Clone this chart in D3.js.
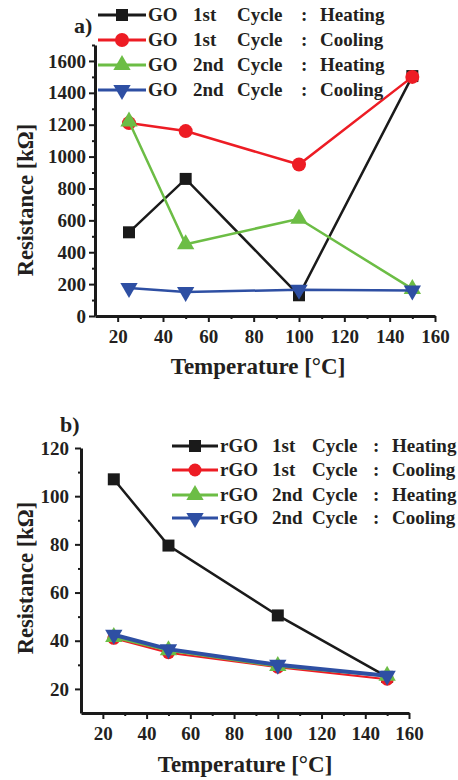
<!DOCTYPE html>
<html><head><meta charset="utf-8">
<script src="https://cdn.jsdelivr.net/npm/d3@7/dist/d3.min.js"></script>
<style>
html,body{margin:0;padding:0;background:#fff;}
svg{display:block;}
text{font-family:"Liberation Serif","Times New Roman",serif;font-weight:bold;fill:#231f20;}
</style></head>
<body>
<svg id="chart" width="458" height="780"></svg>
<script>
// ---------- data ----------
const temps = [25, 50, 100, 150];
const xTicks = [20, 40, 60, 80, 100, 120, 140, 160];
const xMinor = [30, 50, 70, 90, 110, 130, 150];

// panel a (GO)
const goLabels = ["GO 1st Cycle : Heating", "GO 1st Cycle : Cooling", "GO 2nd Cycle : Heating", "GO 2nd Cycle : Cooling"];
const go1Heat = [525, 860, 130, 1505];
const go1Cool = [1210, 1160, 950, 1500];
const go2Heat = [1220, 450, 610, 170];
const go2Cool = [175, 150, 165, 160];
const yTicksA = [0, 200, 400, 600, 800, 1000, 1200, 1400, 1600];
const yMinorA = [100, 300, 500, 700, 900, 1100, 1300, 1500, 1700];

// panel b (rGO)
const rgoLabels = ["rGO 1st Cycle : Heating", "rGO 1st Cycle : Cooling", "rGO 2nd Cycle : Heating", "rGO 2nd Cycle : Cooling"];
const rgo1Heat = [107, 79.5, 50.5, 25];
const rgo1Cool = [41, 35, 29, 24];
const rgo2Heat = [41.5, 36, 29.5, 25.5];
const rgo2Cool = [42.5, 36.5, 30, 25.5];
const yTicksB = [20, 40, 60, 80, 100, 120];
const yMinorB = [30, 50, 70, 90, 110];

const colors = ["#1a1a1a", "#ed1c24", "#6cbd45", "#2e4fa3"];
const symbols = ["square", "circle", "up", "down"];

const svg = d3.select("#chart");

function marker(g, type, x, y, color, s) {
  let sym, size, rot = 0;
  if (type === "square") { sym = d3.symbolSquare; size = s.sq * s.sq; }
  else if (type === "circle") { sym = d3.symbolCircle; size = Math.PI * s.r * s.r; }
  else { sym = d3.symbolTriangle; size = s.tri; if (type === "down") rot = 180; }
  g.append("path")
    .attr("d", d3.symbol().type(sym).size(size)())
    .attr("transform", `translate(${x},${y}) rotate(${rot})`)
    .attr("fill", color);
}

function panel(cfg) {
  const g = svg.append("g");
  const x = d3.scaleLinear().domain([10, 160]).range([cfg.x0, cfg.x1]);
  const y = d3.scaleLinear().domain(cfg.yDomain).range([cfg.y0, cfg.y1]);
  const fmt = d3.format("d");

  // axes
  const xAx = g.append("g").attr("transform", `translate(0,${cfg.y0})`)
    .call(d3.axisBottom(x).tickValues(xTicks).tickFormat(fmt).tickSize(6).tickSizeOuter(0).tickPadding(8));
  const xAxMin = g.append("g").attr("transform", `translate(0,${cfg.y0})`)
    .call(d3.axisBottom(x).tickValues(xMinor).tickSize(3).tickSizeOuter(0).tickFormat(""));
  const yAx = g.append("g").attr("transform", `translate(${cfg.x0},0)`)
    .call(d3.axisLeft(y).tickValues(cfg.yTicks).tickFormat(fmt).tickSize(6).tickSizeOuter(0).tickPadding(cfg.yPad));
  const yAxMin = g.append("g").attr("transform", `translate(${cfg.x0},0)`)
    .call(d3.axisLeft(y).tickValues(cfg.yMinor).tickSize(3).tickSizeOuter(0).tickFormat(""));
  [xAx, xAxMin, yAx, yAxMin].forEach(a => {
    a.select(".domain").attr("stroke", "#1a1a1a").attr("stroke-width", 3);
    a.selectAll(".tick line").attr("stroke", "#1a1a1a").attr("stroke-width", 2);
    a.selectAll(".tick text").style("font-family", '"Liberation Serif",serif')
      .style("font-weight", "bold").style("font-size", cfg.tickFont + "px").attr("fill", "#231f20");
  });
  xAxMin.select(".domain").remove();
  yAxMin.select(".domain").remove();

  // series
  cfg.series.forEach((vals, i) => {
    const line = d3.line().x((d, j) => x(temps[j])).y(d => y(d));
    g.append("path").datum(vals).attr("d", line)
      .attr("fill", "none").attr("stroke", colors[i]).attr("stroke-width", cfg.lw[i]);
    vals.forEach((v, j) => marker(g, symbols[i], x(temps[j]), y(v), colors[i], cfg.ms));
  });

  // axis titles
  g.append("text").attr("x", cfg.xTitleX).attr("y", cfg.xTitleY)
    .attr("text-anchor", "middle").style("font-size", "23px").text("Temperature [°C]");
  g.append("text").attr("transform", `translate(${cfg.yTitleX},${cfg.yTitleY}) rotate(-90)`)
    .attr("text-anchor", "middle").style("font-size", "22.5px").text("Resistance [kΩ]");
  g.append("text").attr("x", cfg.tagX).attr("y", cfg.tagY).style("font-size", "22px").text(cfg.tag);

  // legend
  cfg.labels.forEach((lab, i) => {
    const cy = cfg.legY[i];
    g.append("line").attr("x1", cfg.legX0).attr("x2", cfg.legX1).attr("y1", cy).attr("y2", cy)
      .attr("stroke", colors[i]).attr("stroke-width", 3);
    marker(g, symbols[i], (cfg.legX0 + cfg.legX1) / 2, cy, colors[i], cfg.ms);
    const words = lab.split(" ");
    words.forEach((w, k) => {
      g.append("text").attr("x", cfg.textX + cfg.cols[k]).attr("y", cy + 6)
        .style("font-size", cfg.legFont + "px").text(w);
    });
  });
}

panel({
  x0: 95, x1: 435, y0: 316, y1: 45, yDomain: [0, 1700],
  yTicks: yTicksA, yMinor: yMinorA, yPad: 3, tickFont: 19,
  series: [go1Heat, go1Cool, go2Heat, go2Cool],
  lw: [2.5, 2.5, 2.5, 2.5],
  ms: { sq: 12, r: 7, tri: 130 },
  xTitleX: 258, xTitleY: 374, yTitleX: 33, yTitleY: 200,
  tag: "a)", tagX: 74, tagY: 33,
  labels: goLabels, legY: [15, 40, 65, 90], legX0: 98, legX1: 146,
  textX: 148, cols: [0, 45, 89, 153, 172], legFont: 19
});

panel({
  x0: 81, x1: 409, y0: 713, y1: 448, yDomain: [10, 120],
  yTicks: yTicksB, yMinor: yMinorB, yPad: 6, tickFont: 19,
  series: [rgo1Heat, rgo1Cool, rgo2Heat, rgo2Cool],
  lw: [2.5, 2, 3, 4],
  ms: { sq: 12, r: 6.5, tri: 130 },
  xTitleX: 245, xTitleY: 772, yTitleX: 33, yTitleY: 578,
  tag: "b)", tagX: 60, tagY: 432,
  labels: rgoLabels, legY: [446, 470, 495, 518], legX0: 172, legX1: 218,
  textX: 220, cols: [0, 52, 92, 153, 172], legFont: 19
});
</script>
</body></html>
